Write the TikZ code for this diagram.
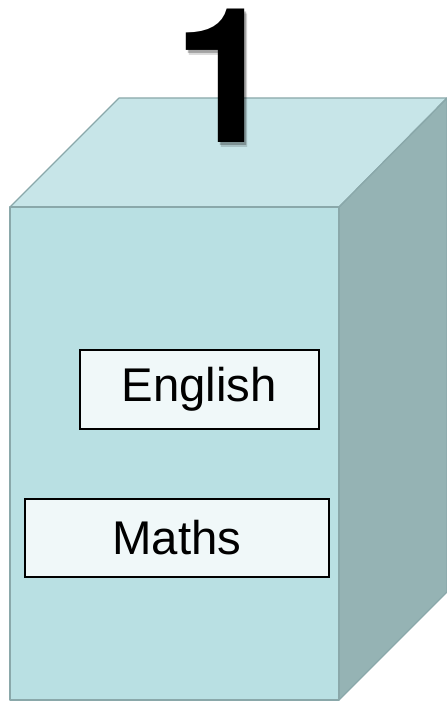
\documentclass[tikz,border=0pt]{standalone}
\usepackage{fontspec}
\setmainfont{Liberation Sans}
\newfontfamily\numfont{TeX Gyre Heros}
\definecolor{frontc}{RGB}{185,224,227}
\definecolor{topc}{RGB}{199,229,232}
\definecolor{sidec}{RGB}{149,179,180}
\definecolor{edgec}{RGB}{138,168,170}
\definecolor{boxc}{RGB}{240,248,249}
\tikzset{
  face/.style={draw=edgec, line width=1.2bp, line join=round},
  subject/.style={draw=black, fill=boxc, line width=1.5bp, inner sep=0pt,
    font=\fontsize{47.5}{52}\selectfont, anchor=north west},
  bignum/.style={font=\numfont\fontsize{189}{189}\selectfont\bfseries, inner sep=0pt, anchor=base}
}
\begin{document}
\begin{tikzpicture}[x=1bp,y=-1bp]
\useasboundingbox (0,0) rectangle (447,703);
% cube corners
\coordinate (fl) at (10,207);
\coordinate (fr) at (339,207);
\coordinate (bl) at (10,700);
\coordinate (br) at (339,700);
\coordinate (tl) at (119,98);
\coordinate (tr) at (447,98);
\coordinate (rb) at (447,592);
\fill[topc] (fl) -- (tl) -- (tr) -- (fr) -- cycle;
\fill[sidec] (fr) -- (tr) -- (rb) -- (br) -- cycle;
\fill[frontc] (fl) -- (fr) -- (br) -- (bl) -- cycle;
\draw[face] (fl) -- (tl) -- (tr) -- (fr) -- cycle;
\draw[face] (fr) -- (tr) -- (rb) -- (br);
\draw[face] (fl) -- (fr) -- (br) -- (bl) -- cycle;
% number with soft shadow
\node[bignum, text=black, opacity=0.15] (numsh2) at (229,147) {1};
\node[bignum, text=black, opacity=0.25] (numsh) at (227.5,145) {1};
\node[bignum] (num) at (225.5,142) {1};
% subject boxes
\node[subject, minimum width=239bp, minimum height=79bp] (eng) at (79,349) {English};
\node[subject, minimum width=304bp, minimum height=78bp] (maths) at (24,498) {Maths};
\end{tikzpicture}
\end{document}
